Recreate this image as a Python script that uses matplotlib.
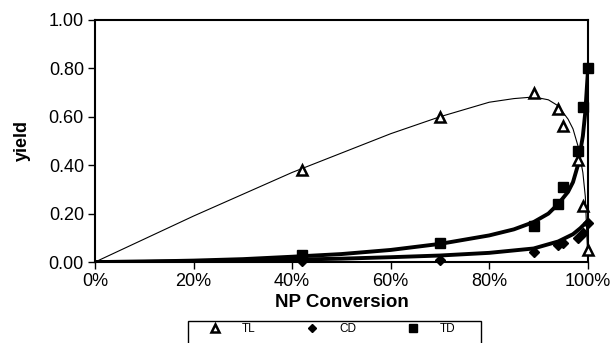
import matplotlib
matplotlib.use('Agg')
import matplotlib.pyplot as plt
from matplotlib.lines import Line2D
from matplotlib.patches import Rectangle
from matplotlib.ticker import FuncFormatter, MultipleLocator

plt.rcParams['font.family'] = ['Liberation Sans', 'DejaVu Sans']

# measured points
conv = [0.42, 0.70, 0.89, 0.94, 0.95, 0.98, 0.99, 1.00]
tl = [0.38, 0.60, 0.70, 0.63, 0.56, 0.42, 0.23, 0.05]
cd = [0.005, 0.01, 0.04, 0.07, 0.08, 0.10, 0.12, 0.16]
td = [0.03, 0.08, 0.15, 0.24, 0.31, 0.46, 0.64, 0.80]

# fitted curves
tl_fit_x = [0, 0.1, 0.2, 0.3, 0.4, 0.5, 0.6, 0.7, 0.8, 0.85, 0.88, 0.9, 0.92,
            0.94, 0.96, 0.97, 0.98, 0.99, 0.995, 1.0]
tl_fit_y = [0, 0.095, 0.19, 0.28, 0.37, 0.45, 0.53, 0.60, 0.66, 0.675, 0.68,
            0.678, 0.67, 0.645, 0.59, 0.55, 0.48, 0.37, 0.27, 0.02]
td_fit_x = [0, 0.1, 0.2, 0.3, 0.4, 0.5, 0.6, 0.7, 0.8, 0.85, 0.89, 0.92, 0.94,
            0.96, 0.97, 0.98, 0.99, 0.995, 1.0]
td_fit_y = [0, 0.002, 0.006, 0.012, 0.022, 0.033, 0.05, 0.075, 0.11, 0.135,
            0.165, 0.2, 0.24, 0.29, 0.33, 0.40, 0.52, 0.62, 0.78]
cd_fit_x = [0, 0.2, 0.4, 0.5, 0.6, 0.7, 0.8, 0.89, 0.94, 0.97, 0.985, 1.0]
cd_fit_y = [0, 0.003, 0.01, 0.014, 0.02, 0.027, 0.038, 0.056, 0.085, 0.115,
            0.14, 0.17]

W, H = 611, 343
fig = plt.figure(figsize=(W / 100, H / 100), dpi=100)
ax = fig.add_axes([0.1555, 0.236, 0.8065, 0.706])

ax.plot(tl_fit_x, tl_fit_y, color='black', lw=0.8, zorder=2)
ax.plot(td_fit_x, td_fit_y, color='black', lw=2.8, zorder=2)
ax.plot(cd_fit_x, cd_fit_y, color='black', lw=2.8, zorder=2)

ax.plot(conv, tl, ls='none', marker='^', ms=7, mfc='white', mec='black',
        mew=1.8, zorder=3, clip_on=False)
ax.plot(conv, cd, ls='none', marker='D', ms=5.5, color='black', zorder=3,
        clip_on=False)
ax.plot(conv, td, ls='none', marker='s', ms=6.5, color='black', zorder=3,
        clip_on=False)

ax.set_xlim(0, 1)
ax.set_ylim(0, 1)
ax.xaxis.set_major_locator(MultipleLocator(0.2))
ax.yaxis.set_major_locator(MultipleLocator(0.2))
ax.xaxis.set_major_formatter(FuncFormatter(lambda v, p: f'{v*100:.0f}%'))
ax.yaxis.set_major_formatter(FuncFormatter(lambda v, p: f'{v:.2f}'))
ax.tick_params(direction='out', length=5, width=1, labelsize=13, pad=3)
for s in ax.spines.values():
    s.set_linewidth(1.5)

ax.set_xlabel('NP Conversion', fontsize=13.5, fontweight='bold', labelpad=3)
ax.set_ylabel('yield', fontsize=13, fontweight='bold', labelpad=13)

# legend box runs off the bottom of the figure, as in the original
fig.patches.append(Rectangle((188 / W, 1 - 350 / H), 293 / W, 29 / H,
                             transform=fig.transFigure, fill=False,
                             edgecolor='black', lw=1.0))
handles = [
    Line2D([], [], ls='none', marker='^', ms=5.5, mfc='white', mec='black', mew=1.8),
    Line2D([], [], ls='none', marker='D', ms=4.5, color='black'),
    Line2D([], [], ls='none', marker='s', ms=5.5, color='black'),
]
fig.legend(handles, ['TL', 'CD', 'TD'], ncol=3, loc='upper left',
           bbox_to_anchor=(203 / W, 1 - 323 / H), fontsize=8.5,
           frameon=False, handlelength=2.0, borderpad=0, borderaxespad=0,
           handletextpad=1.3, columnspacing=3.8)

fig.savefig('out.png', dpi=100)
